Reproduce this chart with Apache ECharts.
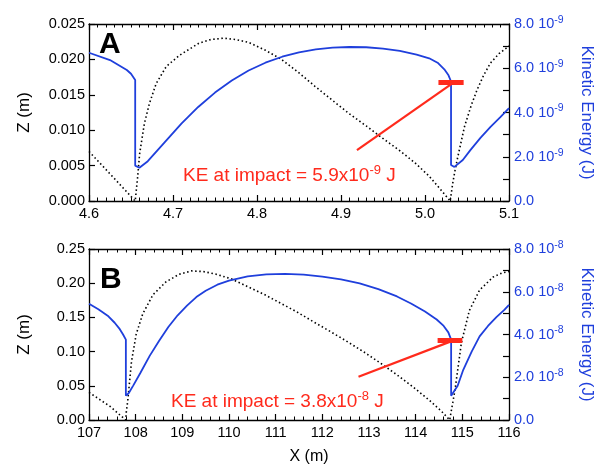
<!DOCTYPE html>
<html>
<head>
<meta charset="utf-8">
<script src="https://cdn.jsdelivr.net/npm/echarts@6/dist/echarts.min.js"></script>
<style>
  html, body { margin: 0; padding: 0; background: #fff; }
  #chart { width: 603px; height: 466px; }
</style>
</head>
<body>
<div id="chart"></div>
<script>
// panel A : x in m, height in m, kinetic energy in J
const zAx = [4.600, 4.630, 4.655, 4.658, 4.6603, 4.666, 4.672, 4.680, 4.692, 4.708, 4.731, 4.745, 4.760, 4.775, 4.790, 4.810, 4.829, 4.850, 4.869, 4.890, 4.909, 4.930, 4.948, 4.970, 4.988, 5.005, 5.018, 5.030, 5.033, 5.036, 5.039, 5.047, 5.055, 5.062, 5.070, 5.078, 5.088, 5.100]
const zA  = [0.0070, 0.0032, 0.0000, 0.0035, 0.0067, 0.0110, 0.0138, 0.0166, 0.0190, 0.0206, 0.0223, 0.0228, 0.0230, 0.0228, 0.0224, 0.0213, 0.0200, 0.0181, 0.0162, 0.0142, 0.0124, 0.0106, 0.0090, 0.0071, 0.0054, 0.0035, 0.0017, 0.0000, 0.0025, 0.0045, 0.0062, 0.0105, 0.0135, 0.0157, 0.0178, 0.0195, 0.0208, 0.0219]
const keAx = [4.600, 4.625, 4.645, 4.650, 4.655, 4.655, 4.660, 4.670, 4.690, 4.710, 4.730, 4.750, 4.770, 4.790, 4.810, 4.830, 4.850, 4.870, 4.890, 4.910, 4.930, 4.950, 4.970, 4.990, 5.005, 5.015, 5.023, 5.028, 5.031, 5.031, 5.035, 5.045, 5.054, 5.066, 5.078, 5.090, 5.100]
const keA  = [6.70e-9, 6.37e-9, 5.92e-9, 5.75e-9, 5.47e-9, 1.60e-9, 1.50e-9, 1.80e-9, 2.65e-9, 3.50e-9, 4.25e-9, 4.90e-9, 5.45e-9, 5.90e-9, 6.25e-9, 6.52e-9, 6.72e-9, 6.85e-9, 6.93e-9, 6.96e-9, 6.95e-9, 6.89e-9, 6.79e-9, 6.62e-9, 6.45e-9, 6.25e-9, 5.95e-9, 5.68e-9, 5.40e-9, 1.63e-9, 1.54e-9, 1.85e-9, 2.30e-9, 2.85e-9, 3.35e-9, 3.80e-9, 4.20e-9]
const arrowA = [[4.919, 2.30e-9], [5.033, 5.33e-9]]
const barA = [[5.016, 5.38e-9], [5.046, 5.38e-9]]

// panel B
const zBx = [107.00, 107.45, 107.786, 107.80, 107.83, 107.91, 108.01, 108.15, 108.37, 108.65, 108.93, 109.20, 109.45, 109.71, 110.06, 110.40, 110.77, 111.10, 111.48, 111.80, 112.18, 112.50, 112.90, 113.25, 113.60, 113.95, 114.30, 114.55, 114.73, 114.76, 114.84, 114.98, 115.15, 115.37, 115.66, 115.85, 116.00]
const zB  = [0.0403, 0.0200, 0.000, 0.012, 0.028, 0.085, 0.125, 0.155, 0.183, 0.202, 0.213, 0.218, 0.217, 0.2135, 0.206, 0.195, 0.183, 0.171, 0.157, 0.144, 0.129, 0.116, 0.099, 0.083, 0.066, 0.048, 0.0285, 0.013, 0.000, 0.012, 0.0426, 0.113, 0.160, 0.190, 0.209, 0.215, 0.217]
const keBx = [107.00, 107.20, 107.40, 107.55, 107.66, 107.73, 107.79, 107.79, 107.80, 107.85, 107.95, 108.10, 108.30, 108.50, 108.70, 108.90, 109.10, 109.30, 109.50, 109.75, 110.00, 110.40, 110.80, 111.20, 111.60, 112.00, 112.40, 112.80, 113.20, 113.60, 113.90, 114.20, 114.45, 114.60, 114.70, 114.76, 114.76, 114.80, 114.90, 115.02, 115.20, 115.37, 115.55, 115.73, 115.90, 116.00]
const keB  = [5.44e-8, 5.18e-8, 4.88e-8, 4.55e-8, 4.25e-8, 4.00e-8, 3.76e-8, 1.14e-8, 1.12e-8, 1.25e-8, 1.62e-8, 2.20e-8, 3.00e-8, 3.70e-8, 4.35e-8, 4.90e-8, 5.35e-8, 5.75e-8, 6.05e-8, 6.33e-8, 6.52e-8, 6.72e-8, 6.81e-8, 6.84e-8, 6.80e-8, 6.71e-8, 6.58e-8, 6.39e-8, 6.12e-8, 5.78e-8, 5.45e-8, 5.08e-8, 4.70e-8, 4.40e-8, 4.10e-8, 3.76e-8, 1.14e-8, 1.12e-8, 1.60e-8, 2.35e-8, 3.20e-8, 3.91e-8, 4.40e-8, 4.81e-8, 5.15e-8, 5.39e-8]
const arrowB = [[112.775, 2.02e-8], [114.77, 3.69e-8]]
const barB = [[114.47, 3.73e-8], [115.00, 3.73e-8]]

const blue = '#1f3fdc'
const red = '#ff2a1c'
const font = 'Liberation Sans, Arial, Helvetica, sans-serif'

const pairs = (xs, ys) => xs.map((x, i) => [x, ys[i]])

function xAxisFor(grid, min, max, interval, split, digits, top) {
  return {
    type: 'value', gridIndex: grid, min: min, max: max, interval: interval,
    position: top ? 'top' : 'bottom',
    axisLine: { show: true, onZero: false, lineStyle: { color: '#000', width: 1.3 } },
    axisTick: { show: true, inside: true, length: 6, lineStyle: { color: '#000', width: 1.2 } },
    minorTick: { show: true, splitNumber: split, length: 3.5, lineStyle: { color: '#000', width: 1 } },
    axisLabel: { show: !top, margin: 5, color: '#000', fontSize: 14.5, fontFamily: font,
      formatter: v => v.toFixed(digits) },
    splitLine: { show: false }
  }
}

function zAxisFor(grid, max, interval, digits) {
  return {
    type: 'value', gridIndex: grid, min: 0, max: max, interval: interval, position: 'left',
    name: 'Z (m)', nameLocation: 'middle', nameGap: 56, nameRotate: 90,
    nameTextStyle: { color: '#000', fontSize: 17, fontFamily: font },
    axisLine: { show: true, lineStyle: { color: '#000', width: 1.3 } },
    axisTick: { show: true, inside: true, length: 6, lineStyle: { color: '#000', width: 1.2 } },
    axisLabel: { margin: 4, color: '#000', fontSize: 14.5, fontFamily: font,
      formatter: v => v.toFixed(digits) },
    splitLine: { show: false }
  }
}

function keAxisFor(grid, max, interval, unit, exp) {
  return {
    type: 'value', gridIndex: grid, min: 0, max: max, interval: interval, position: 'right',
    name: 'Kinetic Energy (J)', nameLocation: 'middle', nameGap: 69, nameRotate: -90,
    nameTextStyle: { color: blue, fontSize: 17, fontFamily: font },
    axisLine: { show: true, lineStyle: { color: '#000', width: 1.3 } },
    axisTick: { show: true, inside: true, length: 6, lineStyle: { color: '#000', width: 1.2 } },
    minorTick: { show: true, splitNumber: 2, length: 6, lineStyle: { color: '#000', width: 1.2 } },
    axisLabel: {
      margin: 5, color: blue, fontSize: 14.5, fontFamily: font,
      formatter: v => v === 0 ? '{n|0.0}' : '{n|' + (v / unit).toFixed(1) + ' 10}{s|' + exp + '}',
      rich: {
        n: { color: blue, fontSize: 14.5, fontFamily: font },
        s: { color: blue, fontSize: 10.5, fontFamily: font, verticalAlign: 'top', padding: [0, 0, 8, 0] }
      }
    },
    splitLine: { show: false }
  }
}

function marks(arrow, bar) {
  return {
    silent: true, symbol: 'none', animation: false,
    label: { show: false },
    data: [
      [{ coord: arrow[0], lineStyle: { color: red, width: 2.2, type: 'solid' } }, { coord: arrow[1] }],
      [{ coord: bar[0], lineStyle: { color: red, width: 5, type: 'solid' } }, { coord: bar[1] }]
    ]
  }
}

const dotted = { color: '#000', width: 1.6, type: [1.5, 2.6] }

const annot = {
  t: { fontSize: 19, fontFamily: font, fill: red, color: red },
  s: { fontSize: 13, fontFamily: font, fill: red, color: red, verticalAlign: 'top', padding: [0, 0, 10, 0] }
}

const chart = echarts.init(document.getElementById('chart'))
chart.setOption({
  animation: false,
  backgroundColor: '#fff',
  grid: [
    { left: 89, right: 91, top: 24, height: 177 },
    { left: 89, right: 90, top: 249, height: 178 }
  ],
  xAxis: [
    xAxisFor(0, 4.6, 5.1, 0.1, 10, 1, false),
    xAxisFor(0, 4.6, 5.1, 0.1, 10, 1, true),
    Object.assign(xAxisFor(1, 107, 116, 1, 5, 0, false), {
      name: 'X (m)', nameLocation: 'middle', nameGap: 29,
      nameTextStyle: { color: '#000', fontSize: 16, fontFamily: font, padding: [0, 0, 0, 20] }
    }),
    xAxisFor(1, 107, 116, 1, 5, 0, true)
  ],
  yAxis: [
    zAxisFor(0, 0.025, 0.005, 3),
    keAxisFor(0, 8e-9, 2e-9, 1e-9, '-9'),
    zAxisFor(1, 0.25, 0.05, 2),
    keAxisFor(1, 8e-8, 2e-8, 1e-8, '-8')
  ],
  series: [
    { type: 'line', xAxisIndex: 0, yAxisIndex: 0, data: pairs(zAx, zA), symbol: 'none',
      smooth: false, lineStyle: dotted },
    { type: 'line', xAxisIndex: 0, yAxisIndex: 1, data: pairs(keAx, keA), symbol: 'none',
      smooth: false, lineStyle: { color: blue, width: 1.8 }, markLine: marks(arrowA, barA) },
    { type: 'line', xAxisIndex: 2, yAxisIndex: 2, data: pairs(zBx, zB), symbol: 'none',
      smooth: false, lineStyle: dotted },
    { type: 'line', xAxisIndex: 2, yAxisIndex: 3, data: pairs(keBx, keB), symbol: 'none',
      smooth: false, lineStyle: { color: blue, width: 1.8 }, markLine: marks(arrowB, barB) }
  ],
  graphic: [
    { type: 'text', left: 99, top: 30, style: { text: 'A', font: 'bold 30px ' + font, fill: '#000' } },
    { type: 'text', left: 100, top: 265, style: { text: 'B', font: 'bold 30px ' + font, fill: '#000' } },
    { type: 'text', left: 183, top: 164, style: { text: '{t|KE at impact = 5.9x10}{s|-9}{t| J}', rich: annot } },
    { type: 'text', left: 171, top: 390, style: { text: '{t|KE at impact = 3.8x10}{s|-8}{t| J}', rich: annot } }
  ]
})
</script>
</body>
</html>
